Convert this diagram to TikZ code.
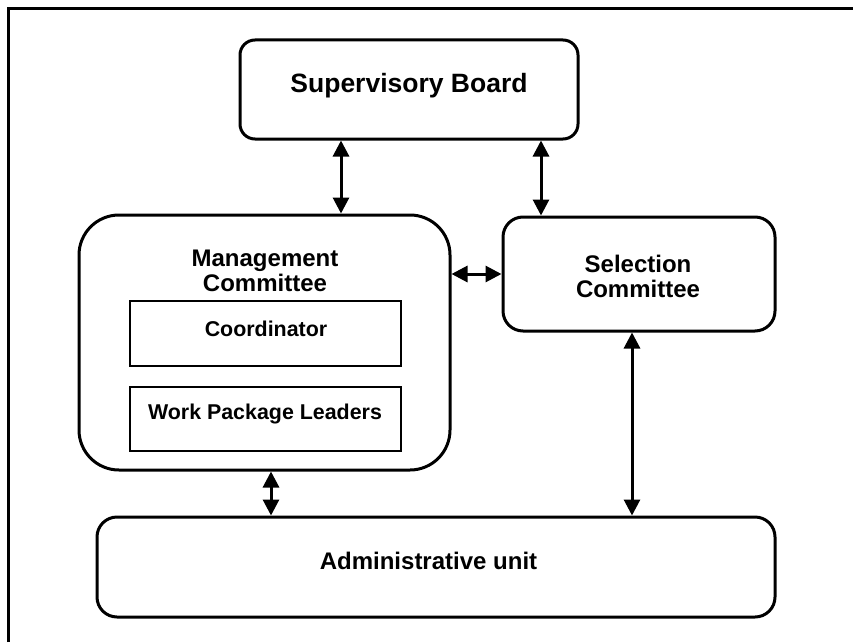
\documentclass[tikz,border=0pt]{standalone}
\usepackage{fontspec}
\setmainfont{Liberation Sans}
\usetikzlibrary{arrows.meta}
\begin{document}
\begin{tikzpicture}[x=1pt,y=-1pt,
  unitbox/.style={draw,line width=3pt,rounded corners=#1,inner sep=0pt},
  subbox/.style={draw,line width=2pt,inner sep=0pt,minimum width=271pt},
  lbl/.style={font=\bfseries\fontsize{24}{25}\selectfont,align=center,inner sep=0pt},
  sublbl/.style={font=\bfseries\fontsize{21.4}{23}\selectfont,inner sep=0pt},
  link/.style={line width=3pt,{Triangle[length=16pt,width=16pt]}-{Triangle[length=16pt,width=16pt]}}]
\useasboundingbox (0,0) rectangle (853,642);
% partial frame
\draw[line width=3pt] (8.5,642) -- (8.5,8.5) -- (853,8.5);

% units
\node[unitbox=15pt,minimum width=338pt,minimum height=99pt] (sb) at (409,89.5) {};
\node[lbl,font=\bfseries\fontsize{26.5}{28}\selectfont] (sbt) at (409,86) {Supervisory Board};

\node[unitbox=40pt,minimum width=371pt,minimum height=255pt] (mc) at (264.5,342.5) {};
\node[lbl] (mct) at (265,271) {Management\\Committee};
\node[subbox,minimum height=65pt] (coord) at (265.5,333.5) {};
\node[sublbl] (coordt) at (266,329) {Coordinator};
\node[subbox,minimum height=64pt] (wpl) at (265.5,419) {};
\node[sublbl] (wplt) at (265,414) {Work Package Leaders};

\node[unitbox=20pt,minimum width=272pt,minimum height=114pt] (sc) at (639,274) {};
\node[lbl] (sct) at (638,276) {Selection\\Committee};

\node[unitbox=20pt,minimum width=678pt,minimum height=100pt] (au) at (436,567) {};
\node[lbl] (aut) at (428.5,561) {Administrative unit};

% connector positions
\coordinate (c1) at (341,0);
\coordinate (c2) at (541,0);
\coordinate (c3) at (0,274);
\coordinate (c4) at (271,0);
\coordinate (c5) at (632,0);

\draw[link] (sb.south -| c1) -- (mc.north -| c1);
\draw[link] (sb.south -| c2) -- (sc.north -| c2);
\draw[link] (mc.east |- c3) -- (sc.west |- c3);
\draw[link] (mc.south -| c4) -- (au.north -| c4);
\draw[link] (sc.south -| c5) -- (au.north -| c5);
\end{tikzpicture}
\end{document}
